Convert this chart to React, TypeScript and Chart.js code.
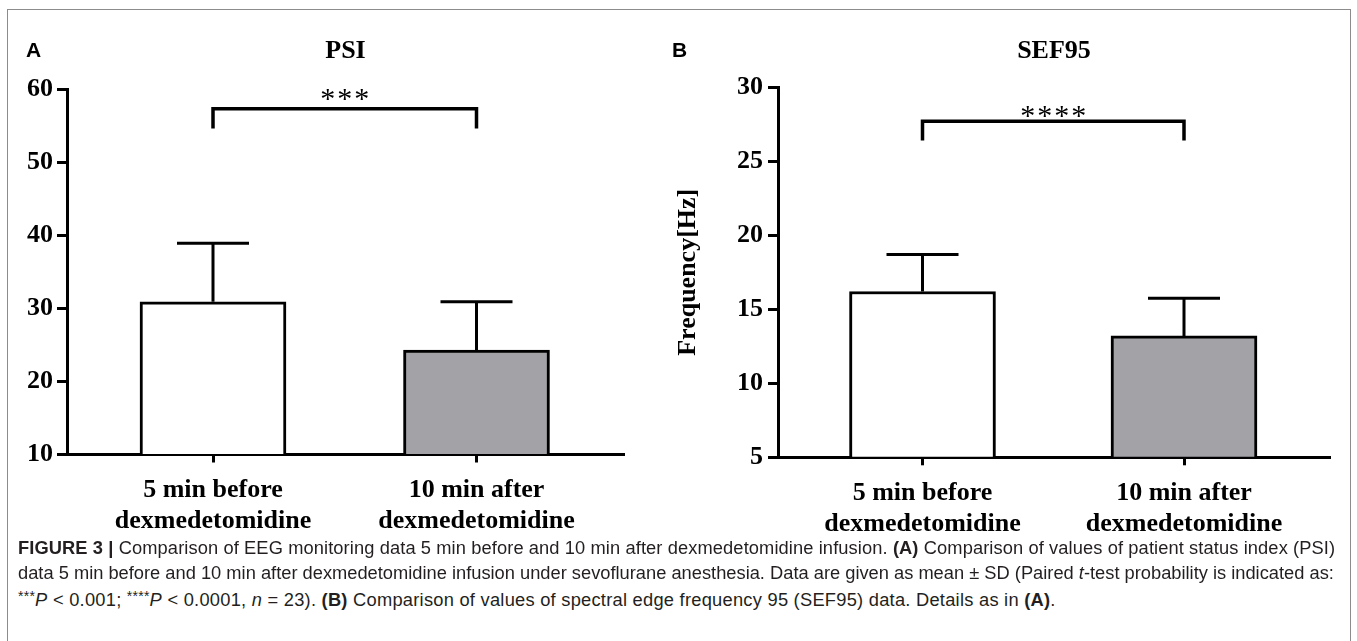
import React, { useEffect, useRef } from "react";
import { Chart, registerables } from "chart.js";

Chart.register(...registerables);

// ---------- data ----------
const categories: string[][] = [
  ["5 min before", "dexmedetomidine"],
  ["10 min after", "dexmedetomidine"],
];
const categoryPositions = [1, 2];
const barColors = ["#ffffff", "#a3a2a7"];

const psiMean = [30.9, 24.3];
const psiSD = [8.0, 6.6];
const psiTicks = [10, 20, 30, 40, 50, 60];
const psiBracket = [57.3, 54.6]; // bracket bar level, bracket leg end
const psiStarsLevel = 59.4;
const psiStars = "***";

const sefMean = [16.2, 13.2];
const sefSD = [2.5, 2.55];
const sefTicks = [5, 10, 15, 20, 25, 30];
const sefBracket = [27.7, 26.4];
const sefStarsLevel = 28.45;
const sefStars = "****";

const SERIF = "'Liberation Serif', 'Times New Roman', serif";
const SANS = "'Liberation Sans', Arial, Helvetica, sans-serif";

// ---------- plugins ----------
const annotatePlugin = {
  id: "annotate",
  afterDatasetsDraw(chart: any, _args: any, opts: any) {
    const { ctx, chartArea } = chart;
    const x = chart.scales.x;
    const y = chart.scales.y;
    ctx.save();
    ctx.strokeStyle = "#000";
    ctx.lineCap = "butt";
    // error bars (upper only)
    ctx.lineWidth = 3;
    opts.means.forEach((m: number, i: number) => {
      const px = x.getPixelForValue(categoryPositions[i]);
      const y0 = y.getPixelForValue(m);
      const y1 = y.getPixelForValue(m + opts.sds[i]);
      ctx.beginPath();
      ctx.moveTo(px, y0);
      ctx.lineTo(px, y1);
      ctx.moveTo(px - opts.capWidth / 2, y1);
      ctx.lineTo(px + opts.capWidth / 2, y1);
      ctx.stroke();
    });
    // significance bracket
    const xa = x.getPixelForValue(categoryPositions[0]);
    const xb = x.getPixelForValue(categoryPositions[1]);
    const yb = y.getPixelForValue(opts.bracket[0]);
    const yl = y.getPixelForValue(opts.bracket[1]);
    ctx.lineWidth = 3.5;
    ctx.lineJoin = "miter";
    ctx.beginPath();
    ctx.moveTo(xa, yl);
    ctx.lineTo(xa, yb);
    ctx.lineTo(xb, yb);
    ctx.lineTo(xb, yl);
    ctx.stroke();
    // stars
    const ys = y.getPixelForValue(opts.starsLevel);
    ctx.fillStyle = "#000";
    ctx.font = `30px ${SERIF}`;
    ctx.textAlign = "center";
    ctx.textBaseline = "middle";
    const n = opts.stars.length;
    const gap = 17;
    const cx = (xa + xb) / 2;
    for (let i = 0; i < n; i++) {
      ctx.fillText("*", cx + (i - (n - 1) / 2) * gap, ys + 7);
    }
    // panel title
    ctx.font = `bold 26px ${SERIF}`;
    ctx.textBaseline = "alphabetic";
    ctx.fillText(opts.title, (chartArea.left + chartArea.right) / 2, opts.titleBaseline);
    ctx.restore();
  },
};

function makeConfig(p: any) {
  return {
    type: "bar",
    data: {
      datasets: [
        {
          data: p.means.map((m: number, i: number) => ({ x: categoryPositions[i], y: m })),
          backgroundColor: barColors,
          borderColor: "#000",
          borderWidth: 3,
          borderSkipped: "start",
          barThickness: 146,
          base: p.ticks[0],
        },
      ],
    },
    options: {
      animation: false,
      responsive: false,
      events: [],
      layout: { autoPadding: false, padding: p.padding },
      plugins: {
        legend: { display: false },
        tooltip: { enabled: false },
        title: { display: false },
        annotate: {
          means: p.means,
          sds: p.sds,
          capWidth: 72,
          bracket: p.bracket,
          starsLevel: p.starsLevel,
          stars: p.stars,
          title: p.title,
          titleBaseline: 58,
        },
      },
      scales: {
        x: {
          type: "linear",
          offset: false,
          min: p.xMin,
          max: p.xMax,
          afterBuildTicks: (s: any) => {
            s.ticks = categoryPositions.map((v) => ({ value: v }));
          },
          afterFit: (s: any) => {
            s.height = p.xHeight;
          },
          ticks: {
            autoSkip: false,
            maxRotation: 0,
            minRotation: 0,
            padding: 12,
            color: "#000",
            font: { family: SERIF, size: 26, weight: "bold", lineHeight: 1.2 },
            callback: (v: number) => categories[categoryPositions.indexOf(v)] ?? "",
          },
          grid: {
            display: true,
            offset: false,
            drawOnChartArea: false,
            drawTicks: true,
            tickLength: 8,
            tickWidth: 3,
            tickColor: "#000",
          },
          border: { display: true, width: 3, color: "#000" },
        },
        y: {
          type: "linear",
          min: p.ticks[0],
          max: p.ticks[p.ticks.length - 1],
          afterBuildTicks: (s: any) => {
            s.ticks = p.ticks.map((v: number) => ({ value: v }));
          },
          afterFit: (s: any) => {
            s.width = p.yWidth;
          },
          ticks: {
            padding: p.yPad,
            color: "#000",
            font: { family: SERIF, size: 26, weight: "bold" },
          },
          grid: {
            display: true,
            drawOnChartArea: false,
            drawTicks: true,
            tickLength: 10,
            tickWidth: 3,
            tickColor: "#000",
          },
          border: { display: true, width: 3, color: "#000" },
          title: p.yTitle
            ? {
                display: true,
                text: p.yTitle,
                color: "#000",
                font: { family: SERIF, size: 26, weight: "bold", lineHeight: 1.2 },
                padding: { top: p.yTitlePad, bottom: 0 },
              }
            : { display: false },
        },
      },
    },
    plugins: [annotatePlugin],
  };
}

function BarPanel(props: { config: any; width: number; height: number; left: number }) {
  const ref = useRef<HTMLCanvasElement | null>(null);
  useEffect(() => {
    if (!ref.current) return;
    const chart = new Chart(ref.current, props.config);
    return () => chart.destroy();
  }, []);
  return (
    <canvas
      ref={ref}
      width={props.width}
      height={props.height}
      style={{ position: "absolute", left: props.left, top: 0, width: props.width, height: props.height }}
    />
  );
}

const psiConfig = makeConfig({
  means: psiMean,
  sds: psiSD,
  ticks: psiTicks,
  bracket: psiBracket,
  starsLevel: psiStarsLevel,
  stars: psiStars,
  title: "PSI",
  padding: { top: 89, left: 0, right: 16, bottom: 0 },
  yWidth: 67,
  xHeight: 545 - 454.5,
  xMin: 1 - 146 / 263.5,
  xMax: 2 + 147.5 / 263.5,
  yPad: 4,
});

const sefConfig = makeConfig({
  means: sefMean,
  sds: sefSD,
  ticks: sefTicks,
  bracket: sefBracket,
  starsLevel: sefStarsLevel,
  stars: sefStars,
  title: "SEF95",
  padding: { top: 87.3, left: 0, right: 27, bottom: 0 },
  yWidth: 128,
  xHeight: 545 - 457.3,
  xMin: 1 - 144.5 / 261.5,
  xMax: 2 + 146 / 261.5,
  yPad: 5,
  yTitle: "Frequency[Hz]",
  yTitlePad: 23,
});

export default function App() {
  const capStyle: React.CSSProperties = {
    position: "absolute",
    left: 18,
    whiteSpace: "nowrap",
    fontFamily: SANS,
    fontSize: 18.3,
    lineHeight: "21px",
    color: "#231f20",
  };
  const sup: React.CSSProperties = { fontSize: 14, verticalAlign: 5 };
  return (
    <div
      style={{
        position: "absolute",
        left: 0,
        top: 0,
        width: 1357,
        height: 641,
        overflow: "hidden",
        background: "#fff",
      }}
    >
      <div
        style={{
          position: "absolute",
          left: 7,
          top: 9,
          width: 1342,
          height: 700,
          border: "1px solid #8c8c8c",
        }}
      />
      <BarPanel config={psiConfig} width={640} height={545} left={0} />
      <BarPanel config={sefConfig} width={707} height={545} left={650} />
      <div style={{ position: "absolute", left: 26, top: 39, fontFamily: SANS, fontWeight: "bold", fontSize: 21, lineHeight: "21px" }}>A</div>
      <div style={{ position: "absolute", left: 672, top: 39, fontFamily: SANS, fontWeight: "bold", fontSize: 21, lineHeight: "21px" }}>B</div>
      <div style={{ ...capStyle, top: 537, letterSpacing: 0.1 }}>
        <b>FIGURE 3 |</b> Comparison of EEG monitoring data 5 min before and 10 min after dexmedetomidine infusion. <b>(A)</b> Comparison of values of patient status index (PSI)
      </div>
      <div style={{ ...capStyle, top: 561.5 }}>
        data 5 min before and 10 min after dexmedetomidine infusion under sevoflurane anesthesia. Data are given as mean ± SD (Paired <i>t</i>-test probability is indicated as:
      </div>
      <div style={{ ...capStyle, top: 586, letterSpacing: 0.25 }}>
        <span style={sup}>***</span>
        <i>P</i> &lt; 0.001; <span style={sup}>****</span>
        <i>P</i> &lt; 0.0001, <i>n</i> = 23). <b>(B)</b> Comparison of values of spectral edge frequency 95 (SEF95) data. Details as in <b>(A)</b>.
      </div>
    </div>
  );
}
